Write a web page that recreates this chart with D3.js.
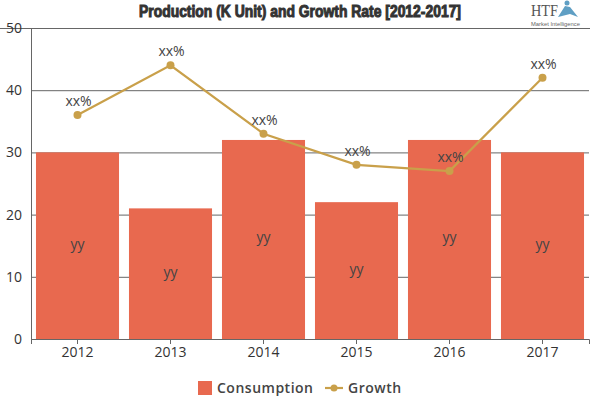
<!DOCTYPE html>
<html>
<head>
<meta charset="utf-8">
<script src="https://cdn.jsdelivr.net/npm/d3@7"></script>
<style>
html, body { margin: 0; padding: 0; background: #fff; }
svg { display: block; }
</style>
</head>
<body>
<script>
var years = ["2012", "2013", "2014", "2015", "2016", "2017"];
var consumption = [30, 21, 32, 22, 32, 30];
var growth = [36, 44, 33, 28, 27, 42];
var yTicks = [0, 10, 20, 30, 40, 50];
var barLabel = "yy";
var lineLabel = "xx%";
var legendNames = ["Consumption", "Growth"];
var titleText = "Production (K Unit) and Growth Rate [2012-2017]";

var width = 600, height = 400;
var plotLeft = 31, plotRight = 589, plotTop = 28, plotBottom = 339;
var barColor = "#e8694f", lineColor = "#c9a04a", axisColor = "#666666";
var fontName = "'Open Sans', 'Noto Sans', sans-serif";

var svg = d3.select("body").append("svg")
    .attr("width", width)
    .attr("height", height);

var x = d3.scaleBand().domain(years).range([plotLeft, plotRight]).paddingInner(0.107).paddingOuter(0.0535);
var xBand = d3.scaleBand().domain(years).range([plotLeft, plotRight]);
var y = d3.scaleLinear().domain([0, 50]).range([plotBottom, plotTop]);

// title and the rule under it
svg.append("text")
    .attr("x", 139)
    .attr("y", 17)
    .attr("textLength", 322)
    .attr("lengthAdjust", "spacingAndGlyphs")
    .attr("font-family", "'Liberation Sans', sans-serif")
    .attr("font-weight", "bold")
    .attr("font-size", 16)
    .attr("fill", "#333333")
    .attr("stroke", "#333333")
    .attr("stroke-width", 1)
    .text(titleText);

svg.append("line")
    .attr("x1", 0).attr("x2", 590)
    .attr("y1", 28.5).attr("y2", 28.5)
    .attr("stroke", axisColor)
    .attr("stroke-width", 1);

// logo
var logo = svg.append("g");
logo.append("text")
    .attr("x", 531).attr("y", 16)
    .attr("textLength", 27)
    .attr("lengthAdjust", "spacingAndGlyphs")
    .attr("font-family", "'Liberation Serif', serif")
    .attr("font-size", 17.5)
    .attr("fill", "#555555")
    .text("HTF");
logo.append("circle").attr("cx", 567).attr("cy", 3).attr("r", 2.5).attr("fill", "#5f9fc4");
logo.append("path")
    .attr("d", d3.line()([[558, 17], [565, 6], [570, 7], [578, 17], [570, 14]]))
    .attr("fill", "#5f9fc4");
logo.append("text")
    .attr("x", 531).attr("y", 26)
    .attr("textLength", 49)
    .attr("lengthAdjust", "spacingAndGlyphs")
    .attr("font-family", "'Liberation Sans', sans-serif")
    .attr("font-size", 6.2)
    .attr("fill", "#666666")
    .text("Market Intelligence");

// y axis with gridlines behind the bars
var yAxis = svg.append("g")
    .attr("transform", "translate(" + plotLeft + ",0)")
    .call(d3.axisLeft(y).tickValues(yTicks).tickSize(0).tickPadding(9));
yAxis.select(".domain").attr("stroke", axisColor);
yAxis.selectAll("text")
    .attr("font-family", fontName)
    .attr("font-size", 14)
    .attr("fill", "#333333");

svg.append("g").selectAll("line")
    .data(yTicks)
    .enter()
    .append("line")
    .attr("x1", plotLeft)
    .attr("x2", plotRight)
    .attr("y1", function(d) { return y(d) + 0.5; })
    .attr("y2", function(d) { return y(d) + 0.5; })
    .attr("stroke", axisColor)
    .attr("stroke-width", 1);

// bars
svg.append("g").selectAll("rect")
    .data(consumption)
    .enter()
    .append("rect")
    .attr("x", function(d, i) { return x(years[i]); })
    .attr("y", function(d) { return y(d); })
    .attr("width", x.bandwidth())
    .attr("height", function(d) { return y(0) - y(d); })
    .attr("fill", barColor);

// x axis
var xAxis = svg.append("g")
    .attr("transform", "translate(0," + plotBottom + ")")
    .call(d3.axisBottom(xBand).tickSize(5).tickPadding(3));
xAxis.select(".domain").attr("stroke", axisColor);
xAxis.selectAll("line").attr("stroke", axisColor);
xAxis.selectAll("text")
    .attr("font-family", fontName)
    .attr("font-size", 14)
    .attr("fill", "#333333");

// bar labels
svg.append("g").selectAll("text")
    .data(consumption)
    .enter()
    .append("text")
    .attr("x", function(d, i) { return xBand(years[i]) + xBand.bandwidth() / 2; })
    .attr("y", function(d) { return y(d / 2) + 3; })
    .attr("text-anchor", "middle")
    .attr("font-family", fontName)
    .attr("font-size", 14)
    .attr("fill", "#444444")
    .text(barLabel);

// growth line
var line = d3.line()
    .x(function(d, i) { return xBand(years[i]) + xBand.bandwidth() / 2; })
    .y(function(d) { return y(d); });

svg.append("path")
    .datum(growth)
    .attr("d", line)
    .attr("fill", "none")
    .attr("stroke", lineColor)
    .attr("stroke-width", 2.2);

svg.append("g").selectAll("circle")
    .data(growth)
    .enter()
    .append("circle")
    .attr("cx", function(d, i) { return xBand(years[i]) + xBand.bandwidth() / 2; })
    .attr("cy", function(d) { return y(d); })
    .attr("r", 4)
    .attr("fill", lineColor);

svg.append("g").selectAll("text")
    .data(growth)
    .enter()
    .append("text")
    .attr("x", function(d, i) { return xBand(years[i]) + xBand.bandwidth() / 2 + 1; })
    .attr("y", function(d) { return y(d) - 9; })
    .attr("text-anchor", "middle")
    .attr("font-family", fontName)
    .attr("font-size", 14)
    .attr("fill", "#444444")
    .text(lineLabel);

// legend
var legend = svg.append("g");
legend.append("rect")
    .attr("x", 198).attr("y", 381)
    .attr("width", 14).attr("height", 14)
    .attr("fill", barColor);
legend.append("text")
    .attr("x", 217).attr("y", 393)
    .attr("font-family", fontName)
    .attr("font-size", 14)
    .attr("font-weight", 600)
    .attr("letter-spacing", 0.5)
    .attr("fill", "#444444")
    .text(legendNames[0]);
legend.append("line")
    .attr("x1", 325).attr("x2", 343)
    .attr("y1", 388).attr("y2", 388)
    .attr("stroke", lineColor)
    .attr("stroke-width", 2.2);
legend.append("circle")
    .attr("cx", 334).attr("cy", 388).attr("r", 3.5)
    .attr("fill", lineColor);
legend.append("text")
    .attr("x", 348).attr("y", 393)
    .attr("font-family", fontName)
    .attr("font-size", 14)
    .attr("font-weight", 600)
    .attr("letter-spacing", 0.5)
    .attr("fill", "#444444")
    .text(legendNames[1]);
</script>
</body>
</html>
